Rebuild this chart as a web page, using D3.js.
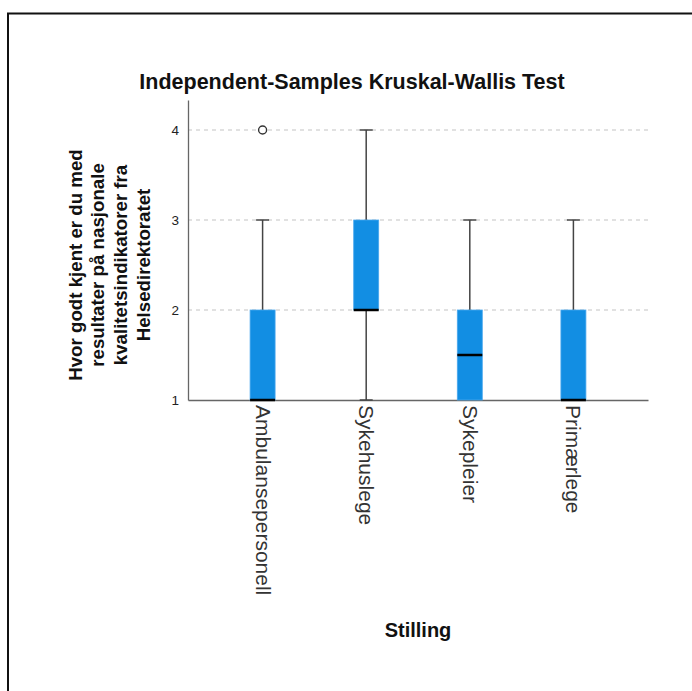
<!DOCTYPE html>
<html>
<head>
<meta charset="utf-8">
<script src="https://cdn.jsdelivr.net/npm/d3@7"></script>
<style>
  html, body { margin: 0; padding: 0; background: #fff; }
  svg { display: block; font-family: "Liberation Sans", Arial, sans-serif; }
</style>
</head>
<body>
<svg id="chart" width="692" height="691"></svg>
<script>
// ---- data ----
const categories = ["Ambulansepersonell", "Sykehuslege", "Sykepleier", "Primærlege"];
const q1 = [1, 2, 1, 1];
const medians = [1, 2, 1.5, 1];
const q3 = [2, 3, 2, 2];
const whiskerLow = [1, 1, 1, 1];
const whiskerHigh = [3, 4, 3, 3];
const outliers = [[4], [], [], []];
const yTicks = [1, 2, 3, 4];
const titleText = "Independent-Samples Kruskal-Wallis Test";
const yTitleLines = ["Hvor godt kjent er du med", "resultater på nasjonale", "kvalitetsindikatorer fra", "Helsedirektoratet"];
const xTitleText = "Stilling";

// ---- layout ----
const svg = d3.select("#chart");
const plotL = 188, plotR = 648, plotT = 100, plotB = 400;

const y = d3.scaleLinear().domain([1, 4 + 1/3]).range([plotB, plotT]);
const x = d3.scalePoint().domain(categories).range([plotL, plotR]).padding(0.72);

// frame (only top and left edges visible)
svg.append("path")
  .attr("d", "M8,700 L8,13.5 L700,13.5")
  .attr("fill", "none").attr("stroke", "#111").attr("stroke-width", 2);

// title
svg.append("text")
  .attr("x", 352).attr("y", 89)
  .attr("text-anchor", "middle")
  .attr("font-size", 21.5).attr("font-weight", "bold").attr("fill", "#111")
  .text(titleText);

// gridlines
svg.append("g").selectAll("line")
  .data(yTicks.filter(d => d > 1))
  .join("line")
  .attr("x1", plotL).attr("x2", plotR)
  .attr("y1", d => y(d)).attr("y2", d => y(d))
  .attr("stroke", "#c4c4c4").attr("stroke-width", 1.2)
  .attr("stroke-dasharray", "4,4");

// y axis
const yAxis = d3.axisLeft(y).tickValues(yTicks).tickSize(0).tickPadding(9).tickFormat(d3.format("d"));
const gy = svg.append("g").attr("transform", `translate(${plotL},0)`).call(yAxis);
gy.select(".domain").attr("stroke", "#666").attr("stroke-width", 1.3);
gy.selectAll("text").attr("font-size", 13.5).attr("fill", "#222")
  .attr("font-family", "'Liberation Sans', Arial, sans-serif");

// x axis
const xAxis = d3.axisBottom(x).tickSize(0).tickPadding(0);
const gx = svg.append("g").attr("transform", `translate(0,${plotB})`).call(xAxis);
gx.select(".domain").attr("stroke", "#666").attr("stroke-width", 1.3);
gx.selectAll("text")
  .attr("font-size", 21).attr("fill", "#333")
  .attr("font-family", "'Liberation Sans', Arial, sans-serif")
  .attr("text-anchor", "start")
  .attr("transform", "rotate(90)")
  .attr("x", 5).attr("y", 0).attr("dy", "0.36em");

// boxes
const boxW = 25, capW = 13;
const g = svg.append("g");
categories.forEach((c, i) => {
  const cx = x(c);
  if (whiskerHigh[i] > q3[i]) {
    g.append("line").attr("x1", cx).attr("x2", cx)
      .attr("y1", y(q3[i])).attr("y2", y(whiskerHigh[i]))
      .attr("stroke", "#444").attr("stroke-width", 1.5);
    g.append("line").attr("x1", cx - capW/2).attr("x2", cx + capW/2)
      .attr("y1", y(whiskerHigh[i])).attr("y2", y(whiskerHigh[i]))
      .attr("stroke", "#444").attr("stroke-width", 1.5);
  }
  if (whiskerLow[i] < q1[i]) {
    g.append("line").attr("x1", cx).attr("x2", cx)
      .attr("y1", y(q1[i])).attr("y2", y(whiskerLow[i]))
      .attr("stroke", "#444").attr("stroke-width", 1.5);
    g.append("line").attr("x1", cx - capW/2).attr("x2", cx + capW/2)
      .attr("y1", y(whiskerLow[i])).attr("y2", y(whiskerLow[i]))
      .attr("stroke", "#444").attr("stroke-width", 1.5);
  }
  g.append("rect")
    .attr("x", cx - boxW/2).attr("width", boxW)
    .attr("y", y(q3[i])).attr("height", y(q1[i]) - y(q3[i]))
    .attr("fill", "#128ee3").attr("stroke", "#4aa8ee").attr("stroke-width", 0.8);
  g.append("line").attr("x1", cx - boxW/2).attr("x2", cx + boxW/2)
    .attr("y1", y(medians[i])).attr("y2", y(medians[i]))
    .attr("stroke", "#000").attr("stroke-width", 2.5);
  outliers[i].forEach(v => {
    g.append("circle").attr("cx", cx).attr("cy", y(v)).attr("r", 4)
      .attr("fill", "#fff").attr("stroke", "#333").attr("stroke-width", 1.4);
  });
});

// y title
const yt = svg.append("text")
  .attr("transform", "translate(0,265) rotate(-90)")
  .attr("text-anchor", "middle")
  .attr("font-size", 18.7).attr("font-weight", "bold").attr("fill", "#111");
yTitleLines.forEach((l, i) => {
  yt.append("tspan").attr("x", 0).attr("y", 75 + i * 22.6).attr("dy", "0.36em").text(l);
});

// x title
svg.append("text")
  .attr("x", 418).attr("y", 637)
  .attr("text-anchor", "middle")
  .attr("font-size", 20).attr("font-weight", "bold").attr("fill", "#111")
  .text(xTitleText);
</script>
</body>
</html>
